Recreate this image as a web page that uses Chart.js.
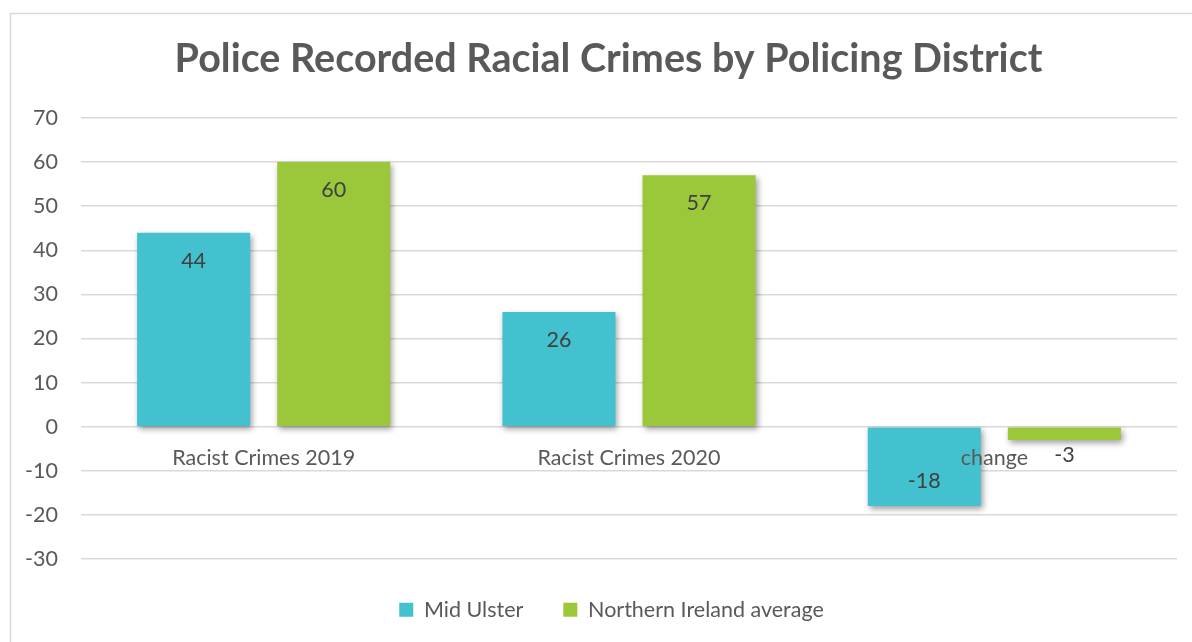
<!DOCTYPE html>
<html>
<head>
<meta charset="utf-8">
<script src="https://cdn.jsdelivr.net/npm/chart.js@4.4.1/dist/chart.umd.min.js"></script>
<style>
html,body{margin:0;padding:0;background:#fff;}
#wrap{width:1192px;height:642px;position:relative;}
</style>
</head>
<body>
<div id="wrap"><canvas id="c" width="1192" height="642"></canvas></div>
<script>
const categories = ['Racist Crimes 2019', 'Racist Crimes 2020', 'change'];
const midUlster = [44, 26, -18];
const niAverage = [60, 57, -3];
const seriesNames = ['Mid Ulster', 'Northern Ireland average'];
const chartTitle = 'Police Recorded Racial Crimes by Policing District';
const yMin = -30, yMax = 70, yStep = 10;

const FONT = 'Lato, "Open Sans", sans-serif';
const TEXT = '#595959';
const FS = 21.5;

const framePlugin = {
  id: 'frame',
  afterLayout(chart) {
    // nudge title and legend to match the reference centring
    if (chart.titleBlock) { chart.titleBlock.left += 15; chart.titleBlock.right += 15; }
    if (chart.legend) { chart.legend.left += 18; chart.legend.right += 18; }
  },
  beforeDraw(chart) {
    const ctx = chart.ctx;
    ctx.save();
    ctx.strokeStyle = '#d9d9d9';
    ctx.lineWidth = 1.5;
    ctx.beginPath();
    ctx.moveTo(10.5, 660);
    ctx.lineTo(10.5, 13.5);
    ctx.lineTo(1200, 13.5);
    ctx.stroke();
    ctx.restore();
  }
};

const shadowPlugin = {
  id: 'shadow',
  beforeDatasetsDraw(chart) {
    const ctx = chart.ctx;
    ctx.save();
    ctx.shadowColor = 'rgba(0,0,0,0.38)';
    ctx.shadowBlur = 6;
    ctx.shadowOffsetX = 2;
    ctx.shadowOffsetY = 3;
  },
  afterDatasetsDraw(chart) {
    chart.ctx.restore();
  }
};

const labelsPlugin = {
  id: 'labels',
  afterDatasetsDraw(chart) {
    const ctx = chart.ctx;
    const x = chart.scales.x, y = chart.scales.y;
    const y0 = y.getPixelForValue(0);
    ctx.save();
    ctx.font = FS + 'px ' + FONT;
    ctx.fillStyle = TEXT;
    ctx.textAlign = 'center';
    ctx.textBaseline = 'middle';
    categories.forEach((c, i) => {
      ctx.fillText(c, x.getPixelForValue(i), y0 + 31);
    });
    ctx.fillStyle = '#404040';
    chart.data.datasets.forEach((ds, di) => {
      const meta = chart.getDatasetMeta(di);
      meta.data.forEach((bar, i) => {
        const v = ds.data[i];
        const h = Math.abs(bar.base - bar.y);
        let ly;
        if (h > 40) {
          ly = v >= 0 ? bar.y + 28 : bar.y - 25;
        } else {
          ly = v >= 0 ? bar.y - 15 : bar.y + 15;
        }
        ctx.fillText(String(v), bar.x, ly);
      });
    });
    ctx.restore();
  }
};

new Chart(document.getElementById('c'), {
  type: 'bar',
  data: {
    labels: categories,
    datasets: [
      { label: seriesNames[0], data: midUlster, backgroundColor: '#43c1ce' },
      { label: seriesNames[1], data: niAverage, backgroundColor: '#9bc83b' }
    ]
  },
  plugins: [framePlugin, shadowPlugin, labelsPlugin],
  options: {
    responsive: false,
    animation: false,
    devicePixelRatio: 1,
    layout: { padding: { left: 10, right: 15, top: 36, bottom: 11.5 } },
    datasets: {
      bar: { categoryPercentage: 0.767, barPercentage: 0.807 }
    },
    scales: {
      x: { display: false },
      y: {
        min: yMin, max: yMax,
        afterFit(scale) { scale.width = 71; },
        ticks: { stepSize: yStep, padding: 23, color: TEXT, font: { family: FONT, size: FS } },
        grid: { color: '#d9d9d9', lineWidth: 1.5, drawTicks: false },
        border: { display: false }
      }
    },
    plugins: {
      title: {
        display: true, text: chartTitle, color: TEXT,
        font: { family: FONT, size: 39.5, weight: 'bold' },
        padding: { top: 0, bottom: 34.6 }
      },
      legend: {
        position: 'bottom',
        labels: {
          color: TEXT, font: { family: FONT, size: FS },
          boxWidth: 14, boxHeight: 14, padding: 40
        }
      },
      tooltip: { enabled: false }
    }
  }
});
</script>
</body>
</html>
